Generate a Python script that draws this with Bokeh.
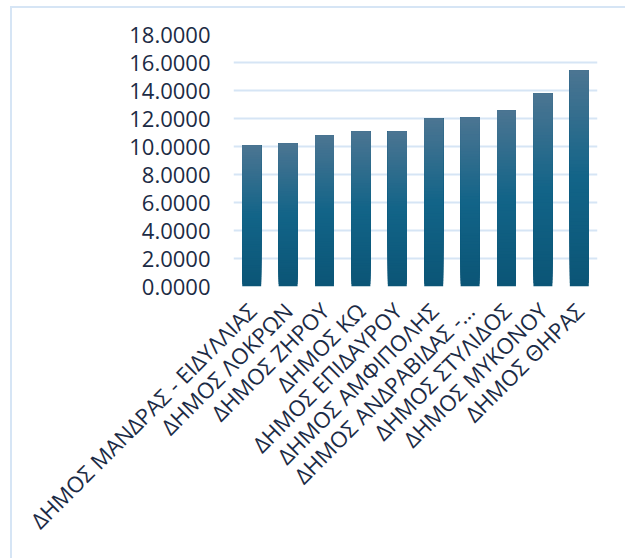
import numpy as np
from bokeh.plotting import figure
from bokeh.models import ColumnDataSource, NumeralTickFormatter, FixedTicker, Range1d
from bokeh.embed import file_html
from bokeh.resources import INLINE
from math import pi

categories = [
    "ΔΗΜΟΣ ΜΑΝΔΡΑΣ - ΕΙΔΥΛΛΙΑΣ",
    "ΔΗΜΟΣ ΛΟΚΡΩΝ",
    "ΔΗΜΟΣ ΖΗΡΟΥ",
    "ΔΗΜΟΣ ΚΩ",
    "ΔΗΜΟΣ ΕΠΙΔΑΥΡΟΥ",
    "ΔΗΜΟΣ ΑΜΦΙΠΟΛΗΣ",
    "ΔΗΜΟΣ ΑΝΔΡΑΒΙΔΑΣ -...",
    "ΔΗΜΟΣ ΣΤΥΛΙΔΟΣ",
    "ΔΗΜΟΣ ΜΥΚΟΝΟΥ",
    "ΔΗΜΟΣ ΘΗΡΑΣ",
]
values = [10.07, 10.21, 10.78, 11.07, 11.07, 12.00, 12.08, 12.58, 13.79, 15.44]
y_ticks = [0, 2, 4, 6, 8, 10, 12, 14, 16, 18]

TEXT = "#1c2b45"
GRID = "#d6e5f5"

# gradient stops (fraction of bar height from bottom -> colour)
stops = [(0.0, (11, 85, 118)), (0.5, (18, 100, 136)), (1.0, (76, 117, 146))]


def grad_color(t):
    for (t0, c0), (t1, c1) in zip(stops[:-1], stops[1:]):
        if t0 <= t <= t1:
            f = (t - t0) / (t1 - t0)
            c = [round(a + (b - a) * f) for a, b in zip(c0, c1)]
            return "#%02x%02x%02x" % tuple(c)
    return "#%02x%02x%02x" % stops[-1][1]


# each bar is drawn as nested slices (bottom rising, top fixed at the value)
N = 60
xs, bots, tops, cols = [], [], [], []
for i in range(N):
    for cat, v in zip(categories, values):
        xs.append(cat)
        bots.append(v * i / N)
        tops.append(v)
        cols.append(grad_color((i + 0.5) / N))
src = ColumnDataSource(dict(x=xs, bottom=bots, top=tops, color=cols))

p = figure(
    x_range=categories,
    y_range=Range1d(0, 18),
    width=615,
    height=552,
    output_backend="svg",
    toolbar_location=None,
    min_border_left=221,
    min_border_right=30,
    min_border_top=26,
    min_border_bottom=274,
)
p.margin = (6, 0, 0, 10)
p.styles = {"border-top": "2px solid #d6e5f5", "border-left": "2px solid #d6e5f5"}

p.vbar(x="x", bottom="bottom", top="top", width=0.52, color="color", line_color=None, source=src)

p.x_range.range_padding = 0
p.outline_line_color = None
p.background_fill_color = "white"
p.border_fill_color = "white"

p.xgrid.grid_line_color = None
p.ygrid.grid_line_color = GRID
p.ygrid.grid_line_width = 2
p.ygrid.ticker = FixedTicker(ticks=y_ticks)

p.yaxis.ticker = FixedTicker(ticks=y_ticks)
p.yaxis.formatter = NumeralTickFormatter(format="0.0000")
p.yaxis.axis_line_color = None
p.yaxis.major_tick_line_color = None
p.yaxis.minor_tick_line_color = None
p.yaxis.major_label_text_font = "Open Sans"
p.yaxis.major_label_text_font_size = "22px"
p.yaxis.major_label_text_color = TEXT
p.yaxis.major_label_standoff = 17

p.xaxis.axis_line_color = None
p.xaxis.major_tick_line_color = None
p.xaxis.minor_tick_line_color = None
p.xaxis.major_label_orientation = pi / 4
p.xaxis.major_label_text_font = "Open Sans"
p.xaxis.major_label_text_font_size = "22px"
p.xaxis.major_label_text_color = TEXT
p.xaxis.major_label_standoff = 14

open("out.html", "w").write(file_html(p, INLINE))
